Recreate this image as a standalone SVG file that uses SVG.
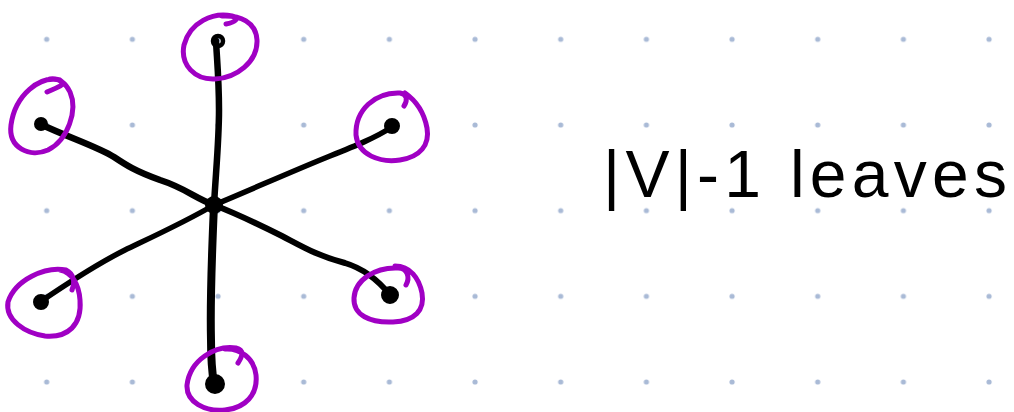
<svg xmlns="http://www.w3.org/2000/svg" width="1014" height="412" viewBox="0 0 1014 412">
  <defs>
    <style>
      .edge { fill: none; stroke: #000; stroke-linecap: round; stroke-linejoin: round; }
      .ring { fill: none; stroke: #a000c4; stroke-width: 5; stroke-linecap: round; stroke-linejoin: round; }
      .vert { fill: #000; stroke: #000; stroke-width: 2; }
      .label { font-family: "Liberation Sans", "DejaVu Sans", sans-serif; font-size: 66px; fill: #000; }
    </style>
    <pattern id="dots" x="46.7" y="39.3" width="85.67" height="85.67" patternUnits="userSpaceOnUse">
      <circle cx="0" cy="0" r="2.6" fill="#a9bad6"/>
      <circle cx="85.67" cy="0" r="2.6" fill="#a9bad6"/>
      <circle cx="0" cy="85.67" r="2.6" fill="#a9bad6"/>
      <circle cx="85.67" cy="85.67" r="2.6" fill="#a9bad6"/>
    </pattern>
  </defs>

  <!-- page with dot grid -->
  <rect width="1014" height="412" fill="#fff"/>
  <rect width="1014" height="412" fill="url(#dots)"/>

  <!-- edges of the star -->
  <g id="edges">
    <path class="edge" stroke-width="6.5" d="M214,205 C216,170 219,140 219,110 C219,80 217,60 216,41"/>
    <path class="edge" stroke-width="6.5" d="M214,205 C195,198 185,188 160,180 C135,171 126,165 114,157 C98,147 70,138 40,124"/>
    <path class="edge" stroke-width="5.5" d="M214,205 C250,190 300,168 330,156 C355,146 375,138 392,127"/>
    <path class="edge" stroke-width="5.5" d="M214,205 C185,222 150,238 125,250 C95,265 65,285 40,302"/>
    <path class="edge" stroke-width="6" d="M214,205 C240,215 262,226 282,236 C305,248 318,256 345,263 C365,269 378,280 390,295"/>
    <path class="edge" stroke-width="8" d="M214,205 C212,250 210,300 211,340 C211,360 212,372 214,384"/>
  </g>

  <!-- centre vertex -->
  <g id="center">
    <circle class="vert" cx="214" cy="205" r="8"/>
  </g>

  <!-- leaves, each circled -->
  <g id="leaf-top">
    <circle cx="218" cy="41" r="5" fill="none" stroke="#000" stroke-width="4.5"/>
    <path class="ring" d="M226,24 C236,22 240,18 232,16 C213,12 190,22 184,45 C180,65 195,80 215,79 C236,78 258,62 257,40 C256,22 240,15 222,16"/>
  </g>
  <g id="leaf-upper-left">
    <circle class="vert" cx="41" cy="124" r="6"/>
    <path class="ring" d="M47,92 C55,88 68,85 60,80 C40,75 15,95 11,125 C8,148 30,158 48,150 C68,140 78,110 70,92 C65,82 58,78 50,79"/>
  </g>
  <g id="leaf-upper-right">
    <circle class="vert" cx="392" cy="126" r="7"/>
    <path class="ring" d="M404,106 C408,100 407,94 400,93 C375,92 355,110 356,135 C358,155 380,163 400,160 C420,157 430,145 427,128 C424,112 415,100 405,93"/>
  </g>
  <g id="leaf-lower-left">
    <circle class="vert" cx="41" cy="302" r="7"/>
    <path class="ring" d="M72,290 C75,282 74,274 66,270 C45,266 15,280 8,302 C5,320 25,333 45,336 C68,338 82,325 80,300 C79,285 72,272 60,270"/>
  </g>
  <g id="leaf-lower-right">
    <circle class="vert" cx="390" cy="295" r="8"/>
    <path class="ring" d="M406,285 C410,278 408,268 398,268 C375,267 355,280 354,298 C353,315 370,323 393,322 C415,321 425,310 422,293 C419,278 410,266 395,266"/>
  </g>
  <g id="leaf-bottom">
    <circle class="vert" cx="215" cy="384" r="9"/>
    <path class="ring" d="M238,363 C242,357 245,350 236,348 C215,345 190,360 187,385 C186,402 205,412 225,410 C245,408 258,395 256,375 C254,358 240,348 225,349"/>
  </g>

  <!-- caption -->
  <g id="caption">
    <text class="label" x="603" y="197" textLength="404" lengthAdjust="spacing">|V|-1 leaves</text>
  </g>
</svg>
